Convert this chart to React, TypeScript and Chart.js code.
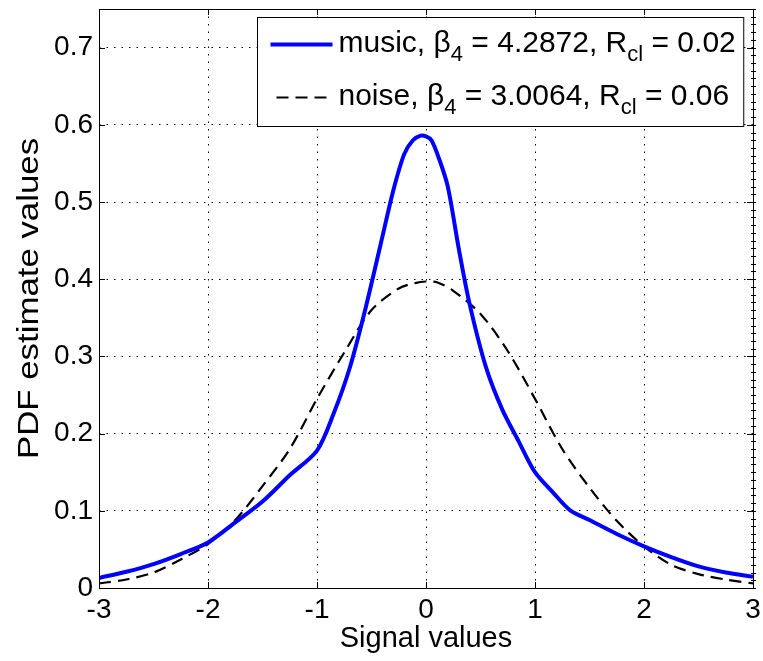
import React, { useEffect, useRef } from "react";
import { Chart, registerables } from "chart.js";

Chart.register(...registerables);

const musicX = [-3, -2.75, -2.5, -2.25, -2, -1.75, -1.5, -1.25, -1, -0.85, -0.7, -0.55, -0.4, -0.3, -0.2, -0.12, -0.05, 0, 0.05, 0.12, 0.2, 0.3, 0.4, 0.55, 0.7, 0.85, 1, 1.17, 1.32, 1.5, 1.75, 2, 2.25, 2.5, 2.75, 3];
const musicY = [0.013, 0.021, 0.031, 0.044, 0.059, 0.085, 0.112, 0.146, 0.178, 0.225, 0.285, 0.365, 0.455, 0.515, 0.562, 0.58, 0.586, 0.585, 0.58, 0.556, 0.52, 0.44, 0.368, 0.286, 0.231, 0.19, 0.15, 0.123, 0.101, 0.088, 0.07, 0.054, 0.04, 0.028, 0.02, 0.0145];

const noiseX = [-3, -2.75, -2.5, -2.25, -2, -1.75, -1.5, -1.25, -1, -0.75, -0.5, -0.25, -0.1, 0, 0.1, 0.25, 0.5, 0.75, 1, 1.25, 1.5, 1.75, 2, 2.25, 2.5, 2.75, 3];
const noiseY = [0.006, 0.011, 0.02, 0.037, 0.057, 0.088, 0.132, 0.18, 0.245, 0.305, 0.36, 0.388, 0.395, 0.397, 0.396, 0.385, 0.355, 0.307, 0.245, 0.18, 0.13, 0.087, 0.054, 0.03, 0.018, 0.011, 0.006];

const seriesNames = ["music", "noise"];
const beta4Values = ["4.2872", "3.0064"];
const rclValues = ["0.02", "0.06"];

const xTicks = [-3, -2, -1, 0, 1, 2, 3];
const yTicks = [0, 0.1, 0.2, 0.3, 0.4, 0.5, 0.6, 0.7];
const yMinorStep = 0.01;
const xTitle = "Signal values";
const yTitle = "PDF estimate values";

const FONT = "'Liberation Sans', Arial, Helvetica, sans-serif";

const framePlugin = {
  id: "frame",
  afterDraw(chart: any) {
    const { ctx, chartArea } = chart;
    const { left, right, top, bottom } = chartArea;
    const xs = chart.scales.x;
    const ys = chart.scales.y;
    ctx.save();
    ctx.strokeStyle = "#000";
    ctx.lineWidth = 1;
    ctx.setLineDash([]);
    ctx.strokeRect(Math.round(left) + 0.5, Math.round(top) + 0.5, Math.round(right - left), Math.round(bottom - top));
    const tl = 6;
    ctx.beginPath();
    for (const v of xTicks) {
      const px = Math.round(xs.getPixelForValue(v)) + 0.5;
      ctx.moveTo(px, bottom); ctx.lineTo(px, bottom - tl);
      ctx.moveTo(px, top); ctx.lineTo(px, top + tl);
    }
    for (const v of yTicks) {
      const py = Math.round(ys.getPixelForValue(v)) + 0.5;
      ctx.moveTo(left, py); ctx.lineTo(left + tl, py);
      ctx.moveTo(right, py); ctx.lineTo(right - tl, py);
    }
    const n = Math.round(ys.max / yMinorStep);
    for (let i = 0; i <= n; i++) {
      const py = Math.round(ys.getPixelForValue(i * yMinorStep)) + 0.5;
      ctx.moveTo(right - 2, py); ctx.lineTo(right + 3, py);
    }
    ctx.stroke();

    // y title (slightly stretched along its length, like the reference)
    ctx.save();
    ctx.fillStyle = "#000";
    ctx.font = `29px ${FONT}`;
    ctx.textAlign = "center";
    ctx.textBaseline = "middle";
    ctx.translate(30, (top + bottom) / 2);
    ctx.rotate(-Math.PI / 2);
    ctx.scale(1.2, 1);
    ctx.fillText(yTitle, 0, 0);
    ctx.restore();

    // legend
    const F = 30;
    const sub = Math.round(F * 0.72);
    const rows = seriesNames.map((name, i) => [
      { t: `${name}, \u03B2`, s: false },
      { t: "4", s: true },
      { t: ` = ${beta4Values[i]}, R`, s: false },
      { t: "cl", s: true },
      { t: ` = ${rclValues[i]}`, s: false },
    ]);
    const widthOf = (row: any[]) => row.reduce((w, seg) => {
      ctx.font = `${seg.s ? sub : F}px ${FONT}`;
      return w + ctx.measureText(seg.t).width;
    }, 0);
    const textW = Math.max(...rows.map(widthOf));
    const padL = 13, lineLen = 62, gap = 6, padR = 8;
    const boxW = padL + lineLen + gap + textW + padR;
    const boxH = 109;
    const bx = Math.round(right - 10 - boxW) + 0.5;
    const by = Math.round(top + 8) + 0.5;
    ctx.fillStyle = "#fff";
    ctx.fillRect(bx, by, boxW, boxH);
    ctx.strokeStyle = "#000";
    ctx.lineWidth = 1;
    ctx.strokeRect(bx, by, boxW, boxH);
    const baselines = [by + 34, by + 87];
    rows.forEach((row, i) => {
      const base = baselines[i];
      const ds = chart.data.datasets[i];
      ctx.save();
      ctx.strokeStyle = ds.borderColor;
      ctx.lineWidth = ds.borderWidth;
      ctx.setLineDash(ds.borderDash || []);
      ctx.beginPath();
      const ly = base - 7;
      const lx0 = bx + padL;
      ctx.moveTo(lx0 + (i === 1 ? 6 : 0), ly);
      ctx.lineTo(lx0 + lineLen, ly);
      ctx.stroke();
      ctx.restore();
      let x = bx + padL + lineLen + gap;
      ctx.fillStyle = "#000";
      ctx.textBaseline = "alphabetic";
      ctx.textAlign = "left";
      for (const seg of row) {
        ctx.font = `${seg.s ? sub : F}px ${FONT}`;
        ctx.fillText(seg.t, x, seg.s ? base + 9 : base);
        x += ctx.measureText(seg.t).width;
      }
    });
    ctx.restore();
  },
};

export default function App() {
  const ref = useRef<HTMLCanvasElement>(null);
  useEffect(() => {
    const canvas = ref.current!;
    const chart = new Chart(canvas, {
      type: "line",
      data: {
        datasets: [
          {
            label: seriesNames[0],
            data: musicX.map((x, i) => ({ x, y: musicY[i] })),
            borderColor: "#0000FF",
            borderWidth: 4,
            pointRadius: 0,
            tension: 0.3,
            fill: false,
          },
          {
            label: seriesNames[1],
            data: noiseX.map((x, i) => ({ x, y: noiseY[i] })),
            borderColor: "#000000",
            borderWidth: 2.2,
            borderDash: [12, 7],
            pointRadius: 0,
            tension: 0.3,
            fill: false,
          },
        ],
      },
      options: {
        animation: false,
        responsive: false,
        devicePixelRatio: 1,
        layout: { padding: { left: 0, right: 10, top: 9, bottom: 0 } },
        plugins: { legend: { display: false }, tooltip: { enabled: false } },
        scales: {
          x: {
            type: "linear",
            min: -3,
            max: 3,
            afterBuildTicks: (s: any) => { s.ticks = xTicks.map((v) => ({ value: v })); },
            afterFit: (s: any) => { s.height = 73; s.paddingLeft = 0; s.paddingRight = 0; },
            ticks: {
              color: "#000",
              font: { family: FONT, size: 28 },
              padding: 5,
              maxRotation: 0,
              callback: (v: any) => String(v),
            },
            grid: { color: "#000", lineWidth: 1, drawTicks: false },
            border: { display: false, dash: [1.5, 6] },
            title: {
              display: true,
              text: xTitle,
              color: "#000",
              font: { family: FONT, size: 29 },
              padding: { top: 0, bottom: 5 },
            },
          },
          y: {
            type: "linear",
            min: 0,
            max: 0.75,
            afterBuildTicks: (s: any) => { s.ticks = yTicks.map((v) => ({ value: v })); },
            afterFit: (s: any) => { s.width = 99; s.paddingTop = 0; s.paddingBottom = 0; },
            ticks: {
              color: "#000",
              font: { family: FONT, size: 28 },
              padding: 6,
              callback: (v: any) => String(Math.round(v * 10) / 10),
            },
            grid: { color: "#000", lineWidth: 1, drawTicks: false },
            border: { display: false, dash: [1.5, 6] },
            title: { display: false, text: yTitle },
          },
        },
      },
      plugins: [framePlugin],
    });
    return () => chart.destroy();
  }, []);
  return (
    <div style={{ position: "fixed", left: 0, top: 0, width: 763, height: 661, background: "#fff" }}>
      <canvas ref={ref} width={763} height={661} style={{ display: "block", width: 763, height: 661 }} />
    </div>
  );
}
